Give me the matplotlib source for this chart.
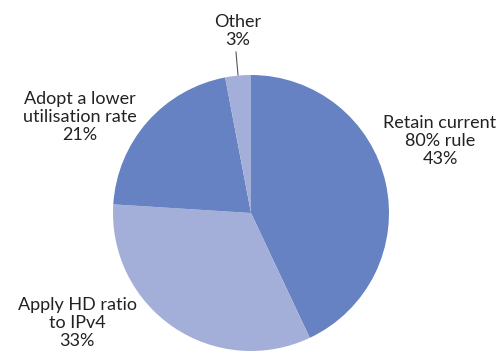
import matplotlib
matplotlib.use("Agg")
from matplotlib import pyplot as plt

# data
labels = ["Retain current\n80% rule", "Apply HD ratio\nto IPv4", "Adopt a lower\nutilisation rate", "Other"]
shares = [43, 33, 21, 3]
colors = ["#6682c2", "#a4afd9", "#6682c2", "#a4afd9"]

W, H = 504, 351
fig = plt.figure(figsize=(W / 100, H / 100), dpi=100)
ax = fig.add_axes([0, 0, 1, 1])

cx, cy, r = 251, H - 213, 138
ax.pie(shares, colors=colors, startangle=90, counterclock=False,
       center=(cx, cy), radius=r, frame=True,
       wedgeprops=dict(linewidth=0))
ax.set_xlim(0, W)
ax.set_ylim(0, H)
ax.axis("off")

# label centres in pixels (from top-left)
label_pos = [(440, 141), (77, 323), (80, 117), (238, 31)]
font = dict(family=["Lato", "DejaVu Sans"], fontsize=13, color="#222222",
            ha="center", va="center", linespacing=1.15)
for lab, val, (x, y) in zip(labels, shares, label_pos):
    ax.text(x, H - y, f"{lab}\n{val}%", **font)

# leader line for the small slice
ax.plot([236, 238], [H - 52, H - 75], color="#555555", lw=0.8)

fig.savefig("out.png", dpi=100)
